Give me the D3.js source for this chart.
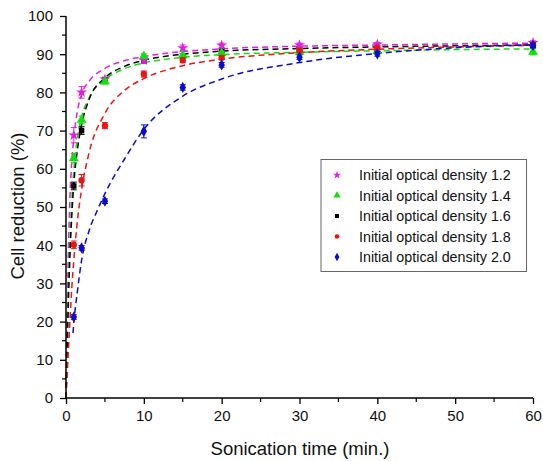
<!DOCTYPE html>
<html><head><meta charset="utf-8">
<script src="https://cdn.jsdelivr.net/npm/d3@7/dist/d3.min.js"></script>
<style>body{margin:0;background:#fff}svg{display:block;font-family:Arial,"Liberation Sans",sans-serif}</style>
</head><body>
<script>
const seriesNames = ["Initial optical density 1.2","Initial optical density 1.4","Initial optical density 1.6","Initial optical density 1.8","Initial optical density 2.0"];
const colors = ["#e020e0","#10e010","#000000","#e81515","#0a0ad0"];
const symbols = ["star","triangle","square","circle","diamond"];
const times = [1,2,5,10,15,20,30,40,60];
const od12 = [68.8,80.0,83.4,88.4,91.6,92.3,92.4,92.6,93.0];
const od14 = [62.8,72.8,82.8,89.5,89.7,90.3,90.6,90.8,90.6];
const od16 = [55.5,70.0,83.3,88.2,89.6,90.9,91.3,91.0,92.2];
const od18 = [40.1,57.0,71.3,84.8,88.4,89.1,91.0,91.7,92.5];
const od20 = [21.2,39.3,51.5,69.8,81.3,87.2,89.2,90.1,92.3];
const err12 = [2.0,1.5,0.6,0.8,0.8,0.6,0.5,0.5,0.5];
const err14 = [1.2,1.0,0.6,0.6,0.5,0.5,0.5,0.5,0.8];
const err16 = [1.0,1.0,0.6,0.6,0.5,0.5,0.5,0.5,0.5];
const err18 = [1.0,1.5,0.8,0.8,0.6,0.5,0.5,0.5,0.5];
const err20 = [0.6,0.6,0.6,1.7,0.7,0.6,0.6,0.6,0.6];
// fitted curves
const fit12x = [0,0.1,0.25,0.5,0.75,1,1.5,2,3,5,7.5,10,15,20,30,40,50,60];
const fit12y = [0,15,33,52,62,68,75.5,79.5,83,86.3,88.3,89.4,90.7,91.4,92.1,92.4,92.7,92.9];
const fit14x = [0,0.1,0.25,0.5,0.75,1,1.5,2,3,5,7.5,10,15,20,30,40,50,60];
const fit14y = [0,10,24,41,52,59.5,68.5,73.5,78.8,83.3,86.2,87.7,89.2,89.9,90.5,90.9,91.2,91.4];
const fit16x = [0,0.1,0.25,0.5,0.75,1,1.5,2,3,5,7.5,10,15,20,30,40,50,60];
const fit16y = [0,9,21,37,48,56,65.5,71.5,78.3,83.8,86.8,88.4,90,90.8,91.5,91.9,92.2,92.4];
const fit18x = [0,0.25,0.5,0.75,1,1.5,2,3,5,7.5,10,15,20,30,40,50,60];
const fit18y = [0,10,20,29,36,47,54.5,64.5,74.5,80.5,83.6,87,88.7,90.4,91.3,91.9,92.3];
const fit20x = [0.9,1,1.5,2,3,4,5,7.5,10,15,20,30,40,50,60];
const fit20y = [17,19.5,28.5,36,44,49,53.5,62.5,70.3,79,83.5,87.8,90.2,91.7,92.5];
const xTicks = [0,10,20,30,40,50,60];
const yTicks = [0,10,20,30,40,50,60,70,80,90,100];

const values = [od12,od14,od16,od18,od20];
const errs = [err12,err14,err16,err18,err20];
const fitsX = [fit12x,fit14x,fit16x,fit18x,fit20x];
const fitsY = [fit12y,fit14y,fit16y,fit18y,fit20y];

const W=543,H=461;
const svg=d3.select("body").append("svg").attr("width",W).attr("height",H);
const x=d3.scaleLinear().domain([0,60]).range([66,533]);
const y=d3.scaleLinear().domain([0,100]).range([398,16]);

const symMap={star:d3.symbolStar,triangle:d3.symbolTriangle,square:d3.symbolSquare,circle:d3.symbolCircle,diamond:d3.symbolDiamond};
const sizes={star:38,triangle:42,square:30,circle:32,diamond:36};

const line=d3.line().x(d=>x(d[0])).y(d=>y(d[1])).curve(d3.curveMonotoneX);

// curves
[0,1,2,3,4].forEach(i=>{
  const pts=fitsX[i].map((v,k)=>[v,fitsY[i][k]]);
  svg.append("path").attr("d",line(pts)).attr("fill","none").attr("stroke",colors[i])
    .attr("stroke-width",1.5).attr("stroke-dasharray","6,4");
});

// points with error bars
[2,0,1,3,4].forEach(i=>{
  const g=svg.append("g");
  times.forEach((t,k)=>{
    const v=values[i][k], e=errs[i][k];
    const cx=x(t);
    g.append("line").attr("x1",cx).attr("x2",cx).attr("y1",y(v-e)).attr("y2",y(v+e)).attr("stroke",colors[i]).attr("stroke-width",1);
    [v-e,v+e].forEach(vv=>g.append("line").attr("x1",cx-3).attr("x2",cx+3).attr("y1",y(vv)).attr("y2",y(vv)).attr("stroke",colors[i]).attr("stroke-width",1));
    g.append("path").attr("d",d3.symbol().type(symMap[symbols[i]]).size(sizes[symbols[i]])())
      .attr("transform",`translate(${cx},${y(v)})`).attr("fill",colors[i]);
  });
});

// axes
const xAxis=d3.axisBottom(x).tickValues(xTicks).tickSize(6).tickPadding(6);
const yAxis=d3.axisLeft(y).tickValues(yTicks).tickSize(6).tickPadding(7);
const gx=svg.append("g").attr("transform","translate(0,398)").call(xAxis);
const gy=svg.append("g").attr("transform","translate(66,0)").call(yAxis);
[gx,gy].forEach(g=>{
  g.select(".domain").attr("stroke","#000").attr("stroke-width",1.5);
  g.selectAll(".tick line").attr("stroke","#000").attr("stroke-width",1.3);
  g.selectAll(".tick text").attr("font-size",15).attr("fill","#111").attr("font-family","Arial, 'Liberation Sans', sans-serif");
});
gx.select(".domain").attr("d","M66,0H533");
gy.select(".domain").attr("d","M0,398V16");
// minor ticks
const xMinor=d3.range(5,60,10), yMinor=d3.range(5,100,10);
svg.append("g").selectAll("line").data(xMinor).join("line")
  .attr("x1",d=>x(d)).attr("x2",d=>x(d)).attr("y1",398).attr("y2",402).attr("stroke","#000").attr("stroke-width",1.2);
svg.append("g").selectAll("line").data(yMinor).join("line")
  .attr("x1",62).attr("x2",66).attr("y1",d=>y(d)).attr("y2",d=>y(d)).attr("stroke","#000").attr("stroke-width",1.2);

// titles
svg.append("text").attr("x",300).attr("y",455).attr("text-anchor","middle").attr("font-size",18.5).attr("fill","#111").text("Sonication time (min.)");
svg.append("text").attr("transform","translate(24,206) rotate(-90)").attr("text-anchor","middle").attr("font-size",18.5).attr("fill","#111").text("Cell reduction (%)");

// legend
const lg=svg.append("g");
lg.append("rect").attr("x",321).attr("y",159.5).attr("width",205.5).attr("height",112).attr("fill","#fff").attr("stroke","#666").attr("stroke-width",1);
seriesNames.forEach((n,i)=>{
  const yy=175+i*20.5;
  lg.append("path").attr("d",d3.symbol().type(symMap[symbols[i]]).size(sizes[symbols[i]]*0.55)())
    .attr("transform",`translate(337,${yy})`).attr("fill",colors[i]);
  lg.append("text").attr("x",359).attr("y",yy+5).attr("font-size",14.3).attr("fill","#111").text(n);
});
</script>
</body></html>
